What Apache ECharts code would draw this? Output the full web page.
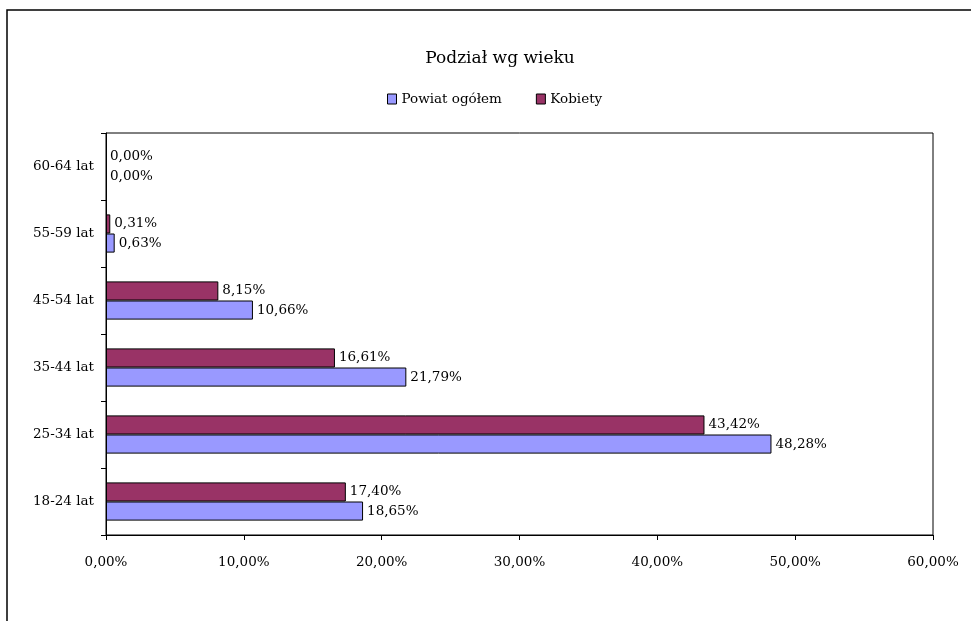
<!DOCTYPE html>
<html><head><meta charset="utf-8">
<script src="https://cdn.jsdelivr.net/npm/echarts@6/dist/echarts.min.js"></script>
<style>html,body{margin:0;padding:0;background:#fff}#c{width:971px;height:621px}</style>
</head><body><div id="c"></div>
<script>
var categories = ['18-24 lat','25-34 lat','35-44 lat','45-54 lat','55-59 lat','60-64 lat'];
var powiat = [18.65, 48.28, 21.79, 10.66, 0.63, 0.00];
var kobiety = [17.40, 43.42, 16.61, 8.15, 0.31, 0.00];
var seriesNames = ['Powiat ogółem','Kobiety'];
var titleText = 'Podział wg wieku';
var FONT = 'DejaVu Serif';
var FS = 13.5;
function pct(v){ return v.toFixed(2).replace('.', ',') + '%'; }
function items(arr){ return arr.map(function(v){ return v === 0 ? {value:v,itemStyle:{borderWidth:0}} : {value:v}; }); }
var lbl = {show:true,position:'right',distance:4,formatter:function(p){return pct(p.value);},fontFamily:FONT,fontSize:FS,color:'#000'};
var chart = echarts.init(document.getElementById('c'), null, {renderer:'canvas'});
chart.setOption({
  animation:false,
  backgroundColor:'#fff',
  textStyle:{fontFamily:FONT,color:'#000'},
  title:{text:titleText,left:495,textAlign:'center',top:45,textStyle:{fontFamily:FONT,fontSize:17,fontWeight:'normal',color:'#000'}},
  legend:{data:seriesNames,top:87,left:382,itemWidth:9,itemHeight:10,itemGap:34,icon:'rect',
    itemStyle:{borderColor:'#000',borderWidth:1},
    textStyle:{fontFamily:FONT,fontSize:FS,color:'#000'}},
  graphic:[{type:'rect',shape:{x:7,y:10,width:1100,height:800},style:{fill:'none',stroke:'#000',lineWidth:1.5},silent:true}],
  grid:{left:106,right:38,top:133,bottom:86,show:true,borderColor:'#000',borderWidth:1,containLabel:false},
  xAxis:{type:'value',min:0,max:60,interval:10,
    axisLine:{show:true,lineStyle:{color:'#000',width:1}},
    axisTick:{show:true,length:5,lineStyle:{color:'#000'}},
    splitLine:{show:false},
    axisLabel:{formatter:function(v){return pct(v);},fontFamily:FONT,fontSize:FS,color:'#000',margin:20}},
  yAxis:{type:'category',data:categories,
    axisLine:{show:true,lineStyle:{color:'#000',width:1}},
    axisTick:{show:true,length:5,lineStyle:{color:'#000'}},
    axisLabel:{fontFamily:FONT,fontSize:FS,color:'#000',margin:12}},
  series:[
    {name:seriesNames[1],type:'bar',data:items(kobiety),barGap:'0%',barCategoryGap:'43%',
     itemStyle:{color:'#993366',borderColor:'#000',borderWidth:1},label:lbl},
    {name:seriesNames[0],type:'bar',data:items(powiat),barGap:'0%',barCategoryGap:'43%',
     itemStyle:{color:'#9999FF',borderColor:'#000',borderWidth:1},label:lbl}
  ]
});
</script></body></html>
